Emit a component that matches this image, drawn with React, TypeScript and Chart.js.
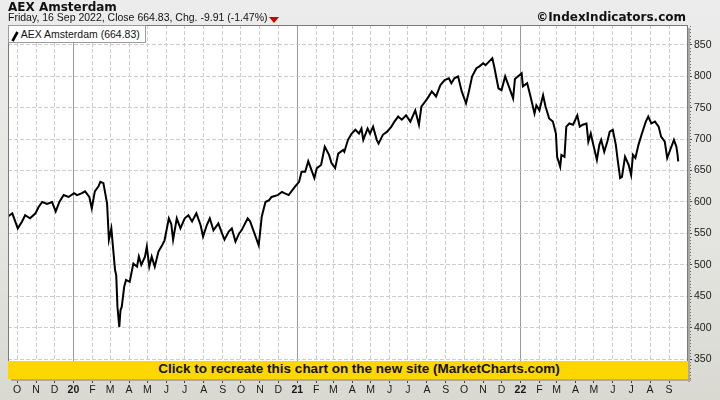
import React, { useEffect, useRef } from 'react';
import { Chart, registerables } from 'chart.js';

Chart.register(...registerables);

// ---------- data ----------
const seriesName = 'AEX Amsterdam';
const startDate = '2019-09-16';
const lastClose = 664.83;
const change = -9.91;
const changePct = -1.47;

const dates = [
  '2019-09-16', '2019-09-23', '2019-10-02', '2019-10-09', '2019-10-14', '2019-10-22', '2019-10-31',
  '2019-11-05', '2019-11-11', '2019-11-19', '2019-11-27', '2019-12-03', '2019-12-09', '2019-12-16',
  '2019-12-24', '2020-01-02', '2020-01-07', '2020-01-15', '2020-01-20', '2020-01-27', '2020-01-31',
  '2020-02-05', '2020-02-11', '2020-02-14', '2020-02-19', '2020-02-25', '2020-02-28', '2020-03-03',
  '2020-03-09', '2020-03-11', '2020-03-13', '2020-03-16', '2020-03-18', '2020-03-20', '2020-03-24',
  '2020-03-27', '2020-04-02', '2020-04-08', '2020-04-14', '2020-04-17', '2020-04-21', '2020-04-27',
  '2020-04-30', '2020-05-04', '2020-05-08', '2020-05-13', '2020-05-19', '2020-05-25', '2020-05-29',
  '2020-06-05', '2020-06-09', '2020-06-12', '2020-06-18', '2020-06-24', '2020-07-01', '2020-07-07',
  '2020-07-13', '2020-07-20', '2020-07-27', '2020-07-31', '2020-08-06', '2020-08-11', '2020-08-17',
  '2020-08-25', '2020-08-31', '2020-09-04', '2020-09-11', '2020-09-16', '2020-09-22', '2020-09-28',
  '2020-10-02', '2020-10-12', '2020-10-16', '2020-10-23', '2020-10-30', '2020-11-04', '2020-11-10',
  '2020-11-16', '2020-11-20', '2020-11-30', '2020-12-07', '2020-12-11', '2020-12-18', '2020-12-28',
  '2021-01-04', '2021-01-08', '2021-01-14', '2021-01-19', '2021-01-22', '2021-01-29', '2021-02-02',
  '2021-02-09', '2021-02-15', '2021-02-22', '2021-02-26', '2021-03-04', '2021-03-09', '2021-03-17',
  '2021-03-19', '2021-03-25', '2021-03-31', '2021-04-06', '2021-04-12', '2021-04-16', '2021-04-19',
  '2021-04-26', '2021-04-30', '2021-05-05', '2021-05-11', '2021-05-14', '2021-05-21', '2021-05-28',
  '2021-06-04', '2021-06-09', '2021-06-15', '2021-06-21', '2021-06-28', '2021-07-05', '2021-07-13',
  '2021-07-19', '2021-07-23', '2021-08-02', '2021-08-09', '2021-08-16', '2021-08-23', '2021-08-30',
  '2021-09-06', '2021-09-10', '2021-09-15', '2021-09-21', '2021-09-27', '2021-10-04', '2021-10-08',
  '2021-10-14', '2021-10-21', '2021-10-26', '2021-11-01', '2021-11-05', '2021-11-16', '2021-11-19',
  '2021-11-26', '2021-12-01', '2021-12-07', '2021-12-13', '2021-12-20', '2021-12-23', '2022-01-03',
  '2022-01-05', '2022-01-12', '2022-01-17', '2022-01-24', '2022-01-27', '2022-02-01', '2022-02-07',
  '2022-02-11', '2022-02-17', '2022-02-23', '2022-02-28', '2022-03-02', '2022-03-07', '2022-03-09',
  '2022-03-14', '2022-03-17', '2022-03-22', '2022-03-28', '2022-04-04', '2022-04-08', '2022-04-13',
  '2022-04-19', '2022-04-22', '2022-04-26', '2022-04-29', '2022-05-06', '2022-05-10', '2022-05-13',
  '2022-05-18', '2022-05-23', '2022-05-27', '2022-06-01', '2022-06-06', '2022-06-09', '2022-06-13',
  '2022-06-16', '2022-06-21', '2022-06-27', '2022-07-01', '2022-07-04', '2022-07-08', '2022-07-13',
  '2022-07-18', '2022-07-25', '2022-07-29', '2022-08-03', '2022-08-09', '2022-08-15', '2022-08-19',
  '2022-08-25', '2022-08-29', '2022-09-01', '2022-09-09', '2022-09-13', '2022-09-15', '2022-09-16',
];

const closes = [
  577, 582, 558, 569, 579, 574, 582,
  592, 600, 597, 600, 585, 600, 611,
  608, 614, 611, 614, 617, 608, 590,
  617, 625, 632, 630, 598, 540, 558,
  492, 483, 433, 401, 428, 433, 465,
  476, 473, 502, 497, 513, 500, 513,
  529, 497, 513, 497, 521, 531, 539,
  574, 565, 540, 574, 558, 574, 579,
  569, 582, 563, 545, 563, 574, 555,
  566, 550, 540, 553, 558, 537, 550,
  555, 574, 569, 550, 531, 577, 600,
  603, 608, 611, 616, 614, 611, 624,
  632, 648, 648, 665, 657, 638, 654,
  659, 688, 675, 662, 654, 677, 683,
  680, 699, 709, 715, 709, 717, 699,
  717, 709, 720, 699, 693, 707, 712,
  720, 728, 736, 731, 738, 728, 746,
  723, 752, 765, 776, 768, 786, 794,
  797, 789, 797, 800, 776, 757, 773,
  800, 813, 816, 821, 818, 829, 816,
  781, 778, 800, 784, 765, 796, 805,
  784, 789, 770, 741, 754, 746, 770,
  752, 733, 728, 709, 672, 656, 675,
  672, 720, 725, 723, 738, 720, 723,
  725, 696, 709, 696, 667, 691, 699,
  680, 696, 712, 715, 691, 667, 638,
  640, 672, 659, 643, 675, 670, 691,
  707, 728, 736, 725, 728, 720, 704,
  696, 670, 678, 699, 688, 674.74, 664.83,
];

const yTicks = [350, 400, 450, 500, 550, 600, 650, 700, 750, 800, 850];
const monthLetters = ['J', 'F', 'M', 'A', 'M', 'J', 'J', 'A', 'S', 'O', 'N', 'D'];
const tickYears = [2019, 2020, 2021, 2022];

// ---------- helpers ----------
const DAY = 86400000;
const t0 = Date.parse(startDate + 'T00:00:00Z');
const dayIndex = (s: string) => Math.round((Date.parse(s + 'T00:00:00Z') - t0) / DAY);

const X_MIN = 0;
const X_MAX = 1112;
const Y_MIN = 318.2;
const Y_MAX = 881.8;

type MT = { value: number; label: string; year: boolean };
const monthTicks: MT[] = [];
tickYears.forEach((y) => {
  for (let m = 0; m < 12; m++) {
    const v = (Date.UTC(y, m, 1) - t0) / DAY;
    if (v <= 0 || v > X_MAX - 6) continue;
    monthTicks.push({ value: v, label: m === 0 ? String(y % 100).padStart(2, '0') : monthLetters[m], year: m === 0 });
  }
});
const tickByValue = new Map<number, MT>();
monthTicks.forEach((t) => tickByValue.set(t.value, t));

const SANS = "'Liberation Sans', Arial, sans-serif";
const VERD = "'DejaVu Sans', Verdana, sans-serif";

const framePlugin = {
  id: 'frame',
  beforeDraw(chart: any) {
    const { ctx, chartArea: a } = chart;
    ctx.save();
    ctx.fillStyle = '#ffffff';
    ctx.fillRect(a.left, a.top, a.right - a.left, a.bottom - a.top);
    ctx.restore();
  },
  afterDraw(chart: any) {
    const { ctx, chartArea: a } = chart;
    const ys = chart.scales.y;
    ctx.save();
    // shadow
    ctx.fillStyle = '#a9a9a6';
    ctx.fillRect(a.right, a.top + 3, 2, a.bottom - a.top);
    ctx.fillRect(a.left + 3, a.bottom, a.right - a.left, 2);
    // frame
    ctx.strokeStyle = '#7a7a7a';
    ctx.lineWidth = 1;
    ctx.strokeRect(a.left + 0.5, a.top + 0.5, a.right - a.left - 1, a.bottom - a.top - 1);
    // minor dots on right axis
    ctx.fillStyle = '#6a6a6a';
    for (let v = 320; v <= 880; v += 5) {
      if (v % 50 === 0) continue;
      const py = Math.round(ys.getPixelForValue(v));
      ctx.fillRect(a.right + 2, py, 1, 1);
    }
    ctx.restore();
  },
};

export default function App() {
  const ref = useRef<HTMLCanvasElement | null>(null);

  useEffect(() => {
    if (!ref.current) return;
    const points = dates.map((d, i) => ({ x: dayIndex(d), y: closes[i] }));
    const chart = new Chart(ref.current, {
      type: 'line',
      data: {
        datasets: [
          {
            label: seriesName,
            data: points,
            borderColor: '#000000',
            borderWidth: 2,
            borderJoinStyle: 'miter',
            pointRadius: 0,
            tension: 0,
            fill: false,
          },
        ],
      },
      options: {
        animation: false,
        responsive: false,
        maintainAspectRatio: false,
        layout: { padding: { left: 8, top: 25, right: 0, bottom: 0 } },
        plugins: {
          legend: { display: false },
          tooltip: { enabled: false },
          title: { display: false },
        },
        scales: {
          x: {
            type: 'linear',
            min: X_MIN,
            max: X_MAX,
            afterBuildTicks: (s: any) => {
              s.ticks = monthTicks.map((t) => ({ value: t.value }));
            },
            afterFit: (s: any) => {
              s.height = 21;
            },
            ticks: {
              autoSkip: false,
              maxRotation: 0,
              padding: 1,
              color: '#1a1a1a',
              callback: (v: any) => tickByValue.get(v)?.label ?? '',
              font: (c: any) => {
                const t = c.tick ? tickByValue.get(c.tick.value) : undefined;
                return { family: SANS, size: 10.5, weight: t && t.year ? 'bold' : 'normal' };
              },
            },
            grid: {
              color: (c: any) => {
                const t = c.tick ? tickByValue.get(c.tick.value) : undefined;
                return t && t.year ? '#9a9a9a' : '#cdcdcd';
              },
              tickColor: '#444444',
              tickLength: 4,
              lineWidth: 1,
            },
            border: {
              display: false,
              dash: (c: any) => {
                const t = c.tick ? tickByValue.get(c.tick.value) : undefined;
                return t && t.year ? [] : [4, 2];
              },
            },
          },
          y: {
            type: 'linear',
            position: 'right',
            min: Y_MIN,
            max: Y_MAX,
            afterBuildTicks: (s: any) => {
              s.ticks = yTicks.map((v) => ({ value: v }));
            },
            afterFit: (s: any) => {
              s.width = 32;
            },
            ticks: {
              padding: 2,
              color: '#1a1a1a',
              font: { family: SANS, size: 10.5 },
              callback: (v: any) => String(v),
            },
            grid: {
              color: '#cdcdcd',
              tickColor: '#444444',
              tickLength: 4,
              lineWidth: 1,
            },
            border: { display: false, dash: [4, 2] },
          },
        },
      },
      plugins: [framePlugin],
    } as any);
    return () => chart.destroy();
  }, []);

  const sub = `Friday, 16 Sep 2022, Close ${lastClose.toFixed(2)}, Chg. ${change.toFixed(2)} (${changePct.toFixed(2)}%)`;

  return (
    <div
      style={{
        position: 'fixed',
        left: 0,
        top: 0,
        width: 720,
        height: 400,
        overflow: 'hidden',
        background: 'linear-gradient(#ececec, #e4e4e0 60%, #d9d9d2)',
      }}
    >
      <canvas ref={ref} width={720} height={400} style={{ display: 'block', position: 'absolute', left: 0, top: 0 }} />
      <div
        style={{
          position: 'absolute', left: 8, top: -0.5, font: `bold 12px ${VERD}`, lineHeight: '14px', color: '#111', whiteSpace: 'nowrap',
        }}
      >
        {seriesName}
      </div>
      <div
        style={{
          position: 'absolute', left: 8, top: 11.4, font: `10.5px ${SANS}`, lineHeight: '12px', color: '#111', whiteSpace: 'nowrap',
        }}
      >
        {sub}
      </div>
      <div
        style={{
          position: 'absolute', left: 269, top: 17, width: 0, height: 0,
          borderLeft: '5px solid transparent', borderRight: '5px solid transparent', borderTop: '6px solid #d00000',
        }}
      />
      <div
        style={{
          position: 'absolute', right: 34, top: 9.9, font: `bold 12px ${VERD}`, lineHeight: '14px', color: '#111', whiteSpace: 'nowrap',
        }}
      >
        ©IndexIndicators.com
      </div>
      <div
        style={{
          position: 'absolute', left: 8, top: 25, width: 138, height: 18, boxSizing: 'border-box',
          background: '#ffffff', border: '1px solid #9c9c9c',
        }}
      >
        <svg width="8" height="11" style={{ position: 'absolute', left: 2, top: 5 }}>
          <line x1="1.5" y1="10" x2="6.5" y2="1" stroke="#000" strokeWidth="2.6" />
        </svg>
        <div
          style={{
            position: 'absolute', left: 11.7, top: 1.7, font: `10.5px ${SANS}`, lineHeight: '12px', color: '#111', whiteSpace: 'nowrap',
          }}
        >
          {`${seriesName} (${lastClose.toFixed(2)})`}
        </div>
      </div>
      <div
        style={{
          position: 'absolute', left: 8, top: 361, width: 680, height: 18, boxSizing: 'border-box', paddingLeft: 22,
          background: '#ffd700', font: `bold 13.5px ${SANS}`, lineHeight: '16px', color: '#111', textAlign: 'center', whiteSpace: 'nowrap',
          cursor: 'pointer',
        }}
      >
        Click to recreate this chart on the new site (MarketCharts.com)
      </div>
    </div>
  );
}
